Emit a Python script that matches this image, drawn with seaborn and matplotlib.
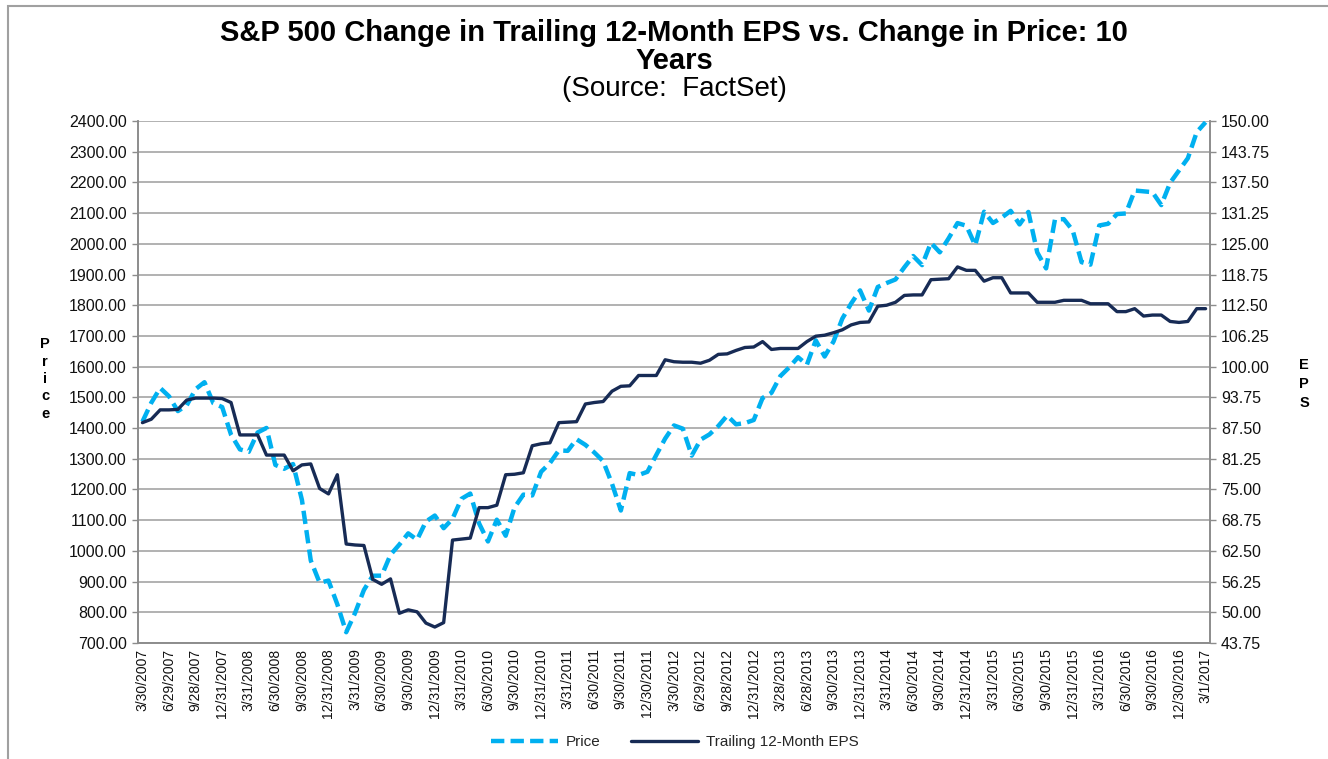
import matplotlib
matplotlib.use("Agg")
import matplotlib.pyplot as plt
from matplotlib.patches import Rectangle
from matplotlib.ticker import FormatStrFormatter
import numpy as np
import pandas as pd
import seaborn as sns

# Quarterly axis labels (every third month-end observation)
tick_labels = [
    "3/30/2007", "6/29/2007", "9/28/2007", "12/31/2007",
    "3/31/2008", "6/30/2008", "9/30/2008", "12/31/2008",
    "3/31/2009", "6/30/2009", "9/30/2009", "12/31/2009",
    "3/31/2010", "6/30/2010", "9/30/2010", "12/31/2010",
    "3/31/2011", "6/30/2011", "9/30/2011", "12/30/2011",
    "3/30/2012", "6/29/2012", "9/28/2012", "12/31/2012",
    "3/28/2013", "6/28/2013", "9/30/2013", "12/31/2013",
    "3/31/2014", "6/30/2014", "9/30/2014", "12/31/2014",
    "3/31/2015", "6/30/2015", "9/30/2015", "12/31/2015",
    "3/31/2016", "6/30/2016", "9/30/2016", "12/30/2016",
    "3/1/2017",
]

# S&P 500 month-end price, Mar 2007 - Mar 2017
price = [
    1420.86, 1482.37, 1530.62, 1503.35, 1455.27, 1473.99, 1526.75, 1549.38, 1481.14, 1468.36,
    1378.55, 1330.63, 1322.70, 1385.59, 1400.38, 1280.00, 1267.38, 1282.83, 1166.36, 968.75, 896.24, 903.25,
    825.88, 735.09, 797.87, 872.81, 919.14, 919.32, 987.48, 1020.62, 1057.08, 1036.19, 1095.63, 1115.10,
    1073.87, 1104.49, 1169.43, 1186.69, 1089.41, 1030.71, 1101.60, 1049.33, 1141.20, 1183.26, 1180.55, 1257.64,
    1286.12, 1327.22, 1325.83, 1363.61, 1345.20, 1320.64, 1292.28, 1218.89, 1131.42, 1253.30, 1246.96, 1257.60,
    1312.41, 1365.68, 1408.47, 1397.91, 1310.33, 1362.16, 1379.32, 1406.58, 1440.67, 1412.16, 1416.18, 1426.19,
    1498.11, 1514.68, 1569.19, 1597.57, 1630.74, 1606.28, 1685.73, 1632.97, 1681.55, 1756.54, 1805.81, 1848.36,
    1782.59, 1859.45, 1872.34, 1883.95, 1923.57, 1960.23, 1930.67, 2003.37, 1972.29, 2018.05, 2067.56, 2058.90,
    1994.99, 2104.50, 2067.89, 2085.51, 2107.39, 2063.11, 2103.84, 1972.18, 1920.03, 2079.36, 2080.41, 2043.94,
    1940.24, 1932.23, 2059.74, 2065.30, 2096.95, 2098.86, 2173.60, 2170.95, 2168.27, 2126.15, 2198.81, 2238.83,
    2278.87, 2363.64, 2395.96,
]

# Trailing 12-month EPS at the same month-ends
eps = [
    88.6, 89.3, 91.2, 91.2, 91.3, 93.2, 93.6, 93.6, 93.6, 93.5,
    92.7, 86.1, 86.1, 86.1, 82.0, 82.0, 82.0, 78.8, 80.0, 80.2, 75.2, 74.1,
    78.0, 63.9, 63.7, 63.6, 56.7, 55.7, 56.8, 49.8, 50.5, 50.1, 47.8, 47.0,
    47.9, 64.7, 64.9, 65.1, 71.3, 71.3, 71.8, 78.0, 78.1, 78.4, 83.9, 84.3,
    84.5, 88.6, 88.7, 88.8, 92.4, 92.7, 92.9, 95.0, 96.0, 96.1, 98.2, 98.2,
    98.2, 101.4, 101.0, 100.9, 100.9, 100.7, 101.3, 102.5, 102.6, 103.3, 103.9, 104.0,
    105.1, 103.5, 103.7, 103.7, 103.7, 105.1, 106.2, 106.4, 106.9, 107.5, 108.5, 109.0,
    109.1, 112.3, 112.5, 113.1, 114.5, 114.6, 114.6, 117.7, 117.8, 117.9, 120.3, 119.6,
    119.6, 117.4, 118.1, 118.1, 115.0, 115.0, 115.0, 113.1, 113.1, 113.1, 113.5, 113.5,
    113.5, 112.8, 112.8, 112.8, 111.2, 111.2, 111.8, 110.3, 110.5, 110.5, 109.2, 109.0,
    109.2, 111.8, 111.8,
]

price_ticks = np.arange(700, 2401, 100)
eps_ticks = np.arange(43.75, 150.01, 6.25)

PRICE_COLOR = "#00B0F0"
EPS_COLOR = "#172B55"
GRID_COLOR = "#9C9C9C"
AXIS_COLOR = "#8C8C8C"
TEXT_COLOR = "#111111"

sns.set_theme(style="white")
plt.rcParams["font.family"] = ["Liberation Sans", "DejaVu Sans"]

df = pd.DataFrame({"pos": np.arange(len(price)), "Price": price, "EPS": eps})

fig = plt.figure(figsize=(13.28, 7.59), dpi=100)
ax = fig.add_axes([0.10392, 0.15283, 0.80723, 0.68775])
ax2 = ax.twinx()

sns.lineplot(data=df, x="pos", y="Price", ax=ax, color=PRICE_COLOR, linewidth=3.2,
             linestyle=(0, (3.0, 1.4)), dash_capstyle="butt", label="Price", legend=False)
sns.lineplot(data=df, x="pos", y="EPS", ax=ax2, color=EPS_COLOR, linewidth=2.4,
             label="Trailing 12-Month EPS", legend=False)

ax.set_xlim(-0.5, len(price) - 0.5)
ax.set_ylim(price_ticks[0], price_ticks[-1])
ax2.set_ylim(eps_ticks[0], eps_ticks[-1])

ax.set_yticks(price_ticks)
ax2.set_yticks(eps_ticks)
ax.yaxis.set_major_formatter(FormatStrFormatter("%.2f"))
ax2.yaxis.set_major_formatter(FormatStrFormatter("%.2f"))

ax.set_xticks(np.arange(0, len(price), 3))
ax.set_xticklabels(tick_labels, rotation=90)

ax.grid(axis="y", color=GRID_COLOR, linewidth=1.1)
ax.grid(axis="x", visible=False)
ax2.grid(False)
ax.set_axisbelow(True)

ax.set_xlabel("")
ax.set_ylabel("")
ax2.set_ylabel("")

for a in (ax, ax2):
    for side, sp in a.spines.items():
        sp.set_color(AXIS_COLOR)
        sp.set_linewidth(1.2)
    a.spines["top"].set_visible(False)

ax.tick_params(axis="y", which="major", left=True, length=4, width=1, color=AXIS_COLOR,
               pad=4, labelsize=11.5, labelcolor=TEXT_COLOR)
ax2.tick_params(axis="y", which="major", right=True, length=4, width=1, color=AXIS_COLOR,
                pad=4, labelsize=11.5, labelcolor=TEXT_COLOR)
ax.tick_params(axis="x", which="major", bottom=False, length=0, pad=4,
               labelsize=10, labelcolor=TEXT_COLOR)

# Title block
fig.text(0.5075, 0.957, "S&P 500 Change in Trailing 12-Month EPS vs. Change in Price: 10",
         ha="center", va="center", fontsize=21, fontweight="bold", color="#000000")
fig.text(0.5075, 0.920, "Years", ha="center", va="center", fontsize=21,
         fontweight="bold", color="#000000")
fig.text(0.5075, 0.883, "(Source:  FactSet)", ha="center", va="center", fontsize=20,
         color="#000000")

# Stacked axis titles
fig.text(45 / 1328, 1 - 379 / 759, "P\nr\ni\nc\ne", ha="center", va="center",
         fontsize=10.5, fontweight="bold", linespacing=1.3, color="#000000")
fig.text(1304 / 1328, 1 - 384 / 759, "E\nP\nS", ha="center", va="center",
         fontsize=10.5, fontweight="bold", linespacing=1.45, color="#000000")

# Legend below the plot
handles = [ax.get_lines()[0], ax2.get_lines()[0]]
fig.legend(handles=handles, labels=["Price", "Trailing 12-Month EPS"],
           loc="center", bbox_to_anchor=(0.508, 1 - 742 / 759), ncol=2,
           frameon=False, fontsize=11, handlelength=4.4, columnspacing=2.0,
           handletextpad=0.5)

# Chart-area border
fig.patches.append(Rectangle((8 / 1328, -0.1), 1.2, 1 - 6 / 759 + 0.1,
                             transform=fig.transFigure, fill=False,
                             edgecolor="#A0A0A0", linewidth=1.5, zorder=0))

fig.savefig("out.png", dpi=100, facecolor="white")
